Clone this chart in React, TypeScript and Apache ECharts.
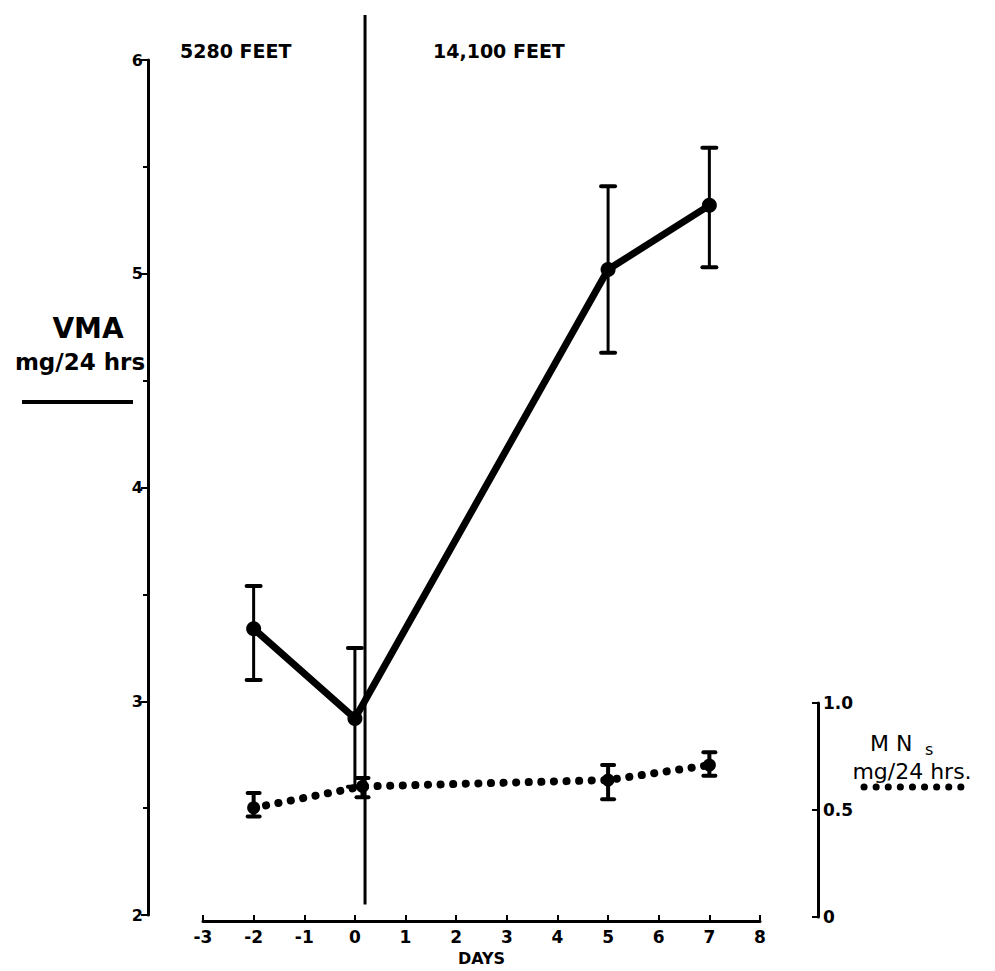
import React, { useEffect, useRef } from "react";
import * as echarts from "echarts";

// Days
const vmaDays = [-2, 0, 5, 7];
const vmaValues = [3.34, 2.92, 5.02, 5.32];
const vmaLow = [3.1, 2.6, 4.63, 5.03];
const vmaHigh = [3.54, 3.25, 5.41, 5.59];

const mnsDays = [-2, 0.15, 5, 7];
const mnsValues = [0.51, 0.61, 0.64, 0.71];
const mnsLow = [0.47, 0.56, 0.55, 0.66];
const mnsHigh = [0.58, 0.65, 0.71, 0.77];

const separatorDay = 0.2;
const separatorRange = [2.05, 6.21];

const xTicks = [-3, 8];
const vmaAxis = [2, 6];
const mnsAxis = [0, 1];

const FONT = "DejaVu Sans";

function errRender(capHalf: number, width: number) {
  return (params: any, api: any) => {
    const x = api.value(0);
    const lo = api.value(1);
    const hi = api.value(2);
    const a = api.coord([x, hi]);
    const b = api.coord([x, lo]);
    const st = { stroke: "#000", lineWidth: width };
    return {
      type: "group",
      children: [
        { type: "line", shape: { x1: a[0], y1: a[1], x2: b[0], y2: b[1] }, style: st },
        { type: "line", shape: { x1: a[0] - capHalf, y1: a[1], x2: a[0] + capHalf, y2: a[1] }, style: { stroke: "#000", lineWidth: 4, lineCap: "round" } },
        { type: "line", shape: { x1: b[0] - capHalf, y1: b[1], x2: b[0] + capHalf, y2: b[1] }, style: { stroke: "#000", lineWidth: 4, lineCap: "round" } },
      ],
    };
  };
}

export default function App() {
  const ref = useRef<HTMLDivElement>(null);
  useEffect(() => {
    if (!ref.current) return;
    const chart = echarts.init(ref.current, undefined, { renderer: "svg" });
    const labelStyle = { color: "#000", fontFamily: FONT, fontWeight: "bold" as const, fontSize: 16 };
    chart.setOption({
      animation: false,
      backgroundColor: "#fff",
      grid: [
        { left: 203, right: 235, top: 60, bottom: 55 },
        { left: 203, right: 235, top: 703, bottom: 54 },
      ],
      xAxis: [
        {
          gridIndex: 0,
          type: "value",
          min: xTicks[0],
          max: xTicks[1],
          interval: 1,
          offset: 6,
          name: "DAYS",
          nameLocation: "middle",
          nameGap: 25,
          nameTextStyle: { ...labelStyle, fontSize: 16 },
          axisLine: { show: true, onZero: false, lineStyle: { color: "#000", width: 3 } },
          axisTick: { show: true, inside: true, length: 6, lineStyle: { color: "#000", width: 2 } },
          axisLabel: { ...labelStyle, fontSize: 17, margin: 7 },
          splitLine: { show: false },
        },
        {
          gridIndex: 1,
          type: "value",
          min: xTicks[0],
          max: xTicks[1],
          show: false,
          splitLine: { show: false },
        },
      ],
      yAxis: [
        {
          gridIndex: 0,
          type: "value",
          min: vmaAxis[0],
          max: vmaAxis[1],
          interval: 1,
          offset: 55,
          position: "left",
          axisLine: { show: true, onZero: false, lineStyle: { color: "#000", width: 3 } },
          axisTick: { show: true, length: 7, lineStyle: { color: "#000", width: 2 } },
          minorTick: { show: true, splitNumber: 2, length: 5, lineStyle: { color: "#000", width: 2 } },
          axisLabel: { ...labelStyle, fontSize: 16, margin: 5 },
          splitLine: { show: false },
          minorSplitLine: { show: false },
        },
        {
          gridIndex: 1,
          type: "value",
          min: mnsAxis[0],
          max: mnsAxis[1],
          interval: 0.5,
          offset: 58,
          position: "right",
          axisLine: { show: true, onZero: false, lineStyle: { color: "#000", width: 3 } },
          axisTick: { show: true, inside: true, length: 6, lineStyle: { color: "#000", width: 2 } },
          axisLabel: {
            ...labelStyle,
            fontSize: 17,
            margin: 5,
            formatter: (v: number) => (v === 0 ? "0" : v.toFixed(1)),
          },
          splitLine: { show: false },
        },
      ],
      series: [
        {
          name: "separator",
          type: "line",
          xAxisIndex: 0,
          yAxisIndex: 0,
          clip: false,
          symbol: "none",
          data: separatorRange.map((v) => [separatorDay, v]),
          lineStyle: { color: "#000", width: 3 },
          silent: true,
        },
        {
          name: "VMA err",
          type: "custom",
          xAxisIndex: 0,
          yAxisIndex: 0,
          renderItem: errRender(7, 3),
          encode: { x: 0, y: [1, 2] },
          data: vmaDays.map((d, i) => [d, vmaLow[i], vmaHigh[i]]),
          z: 3,
        },
        {
          name: "VMA",
          type: "line",
          xAxisIndex: 0,
          yAxisIndex: 0,
          data: vmaDays.map((d, i) => [d, vmaValues[i]]),
          symbol: "circle",
          symbolSize: 15,
          itemStyle: { color: "#000" },
          lineStyle: { color: "#000", width: 7 },
          z: 4,
        },
        {
          name: "MNs err",
          type: "custom",
          xAxisIndex: 1,
          yAxisIndex: 1,
          renderItem: errRender(6, 4),
          encode: { x: 0, y: [1, 2] },
          data: mnsDays.map((d, i) => [d, mnsLow[i], mnsHigh[i]]),
          z: 3,
        },
        {
          name: "MNs",
          type: "line",
          xAxisIndex: 1,
          yAxisIndex: 1,
          data: mnsDays.map((d, i) => [d, mnsValues[i]]),
          symbol: "circle",
          symbolSize: 13,
          itemStyle: { color: "#000" },
          lineStyle: { color: "#000", width: 8, type: [0.1, 12.5], cap: "round" },
          z: 4,
        },
      ],
      graphic: [
        { type: "text", left: 180, top: 41, style: { text: "5280 FEET", fill: "#000", font: `bold 19px "${FONT}"` } },
        { type: "text", left: 433, top: 41, style: { text: "14,100 FEET", fill: "#000", font: `bold 19px "${FONT}"` } },
        { type: "text", x: 88, y: 328, style: { text: "VMA", fill: "#000", font: `bold 28px "${FONT}"`, textAlign: "center", textVerticalAlign: "middle" } },
        { type: "text", x: 80, y: 362, style: { text: "mg/24 hrs", fill: "#000", font: `bold 23px "${FONT}"`, textAlign: "center", textVerticalAlign: "middle" } },
        { type: "line", shape: { x1: 22, y1: 402, x2: 133, y2: 402 }, style: { stroke: "#000", lineWidth: 4 } },
        { type: "text", x: 870, y: 743, style: { text: "M N", fill: "#000", font: `22px "${FONT}"`, textVerticalAlign: "middle" } },
        { type: "text", x: 925, y: 749, style: { text: "s", fill: "#000", font: `16px "${FONT}"`, textVerticalAlign: "middle" } },
        { type: "text", x: 912, y: 771, style: { text: "mg/24 hrs.", fill: "#000", font: `22px "${FONT}"`, textAlign: "center", textVerticalAlign: "middle" } },
        { type: "line", shape: { x1: 864, y1: 787, x2: 966, y2: 787 }, style: { stroke: "#000", lineWidth: 7, lineDash: [0.1, 12], lineCap: "round" } },
      ],
    });
    return () => chart.dispose();
  }, []);
  return <div ref={ref} style={{ position: "fixed", left: 0, top: 0, width: 995, height: 971 }} />;
}
